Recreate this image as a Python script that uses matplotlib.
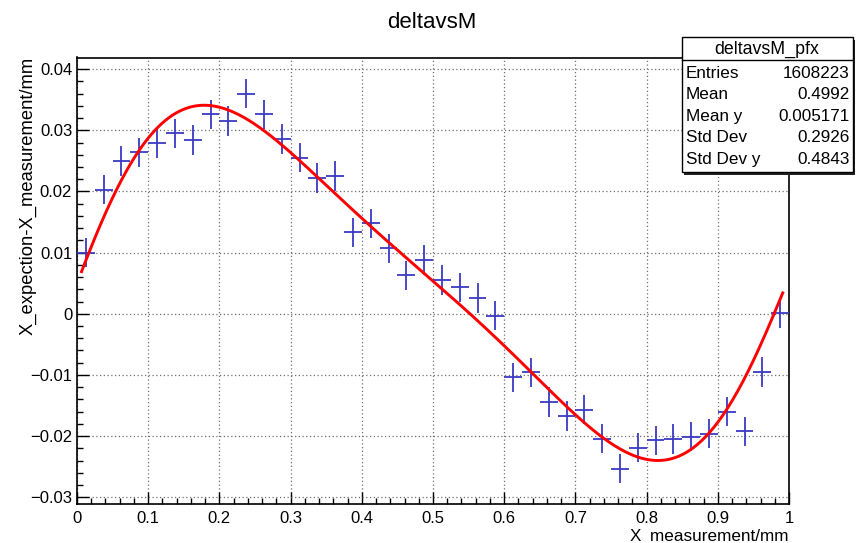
import numpy as np
import matplotlib
matplotlib.use("Agg")
import matplotlib.pyplot as plt
from matplotlib.patches import Rectangle
from matplotlib.lines import Line2D
from matplotlib.ticker import MultipleLocator, FuncFormatter

plt.rcParams['font.family'] = ['Liberation Sans', 'DejaVu Sans']

# ---- data ----
bin_centers = [0.0125, 0.0375, 0.0625, 0.0875, 0.1125, 0.1375, 0.1625, 0.1875,
               0.2125, 0.2375, 0.2625, 0.2875, 0.3125, 0.3375, 0.3625, 0.3875,
               0.4125, 0.4375, 0.4625, 0.4875, 0.5125, 0.5375, 0.5625, 0.5875,
               0.6125, 0.6375, 0.6625, 0.6875, 0.7125, 0.7375, 0.7625, 0.7875,
               0.8125, 0.8375, 0.8625, 0.8875, 0.9125, 0.9375, 0.9625, 0.9875]
profile_y = [0.0100, 0.0203, 0.0250, 0.0264, 0.0279, 0.0295, 0.0284, 0.0326,
             0.0315, 0.0360, 0.0326, 0.0286, 0.0255, 0.0222, 0.0225, 0.0133,
             0.0148, 0.0107, 0.0063, 0.0088, 0.0055, 0.0043, 0.0026, -0.0003,
             -0.0104, -0.0096, -0.0144, -0.0167, -0.0157, -0.0204, -0.0253, -0.0219,
             -0.0207, -0.0205, -0.0201, -0.0196, -0.0160, -0.0192, -0.0095, 0.0001]
profile_yerr = [0.0024] * 40
bin_half_width = 0.0125

# red fitted curve
fit_x = [0.0056, 0.0276, 0.051, 0.0698, 0.0838, 0.112, 0.1447, 0.1774, 0.1850, 0.1962,
         0.2243, 0.2617, 0.2945, 0.3179, 0.3413, 0.3647, 0.3834, 0.4115, 0.5004,
         0.648, 0.664, 0.7346, 0.7813, 0.8141, 0.8200, 0.8516, 0.884, 0.9125, 0.9406,
         0.9686, 0.992]
fit_y = [0.00666, 0.01265, 0.0200, 0.0241, 0.0257, 0.0298, 0.0325, 0.0340, 0.0342, 0.0342,
         0.0334, 0.0301, 0.0265, 0.0241, 0.0219, 0.0197, 0.01755, 0.0146, 0.0050,
         -0.0108, -0.0124, -0.0198, -0.0231, -0.0238, -0.0238, -0.0231, -0.0206, -0.0157,
         -0.0097, -0.0021, 0.0036]

title = "deltavsM"
xlabel = "X_measurement/mm"
ylabel = "X_expection-X_measurement/mm"
stats_title = "deltavsM_pfx"
stats_labels = ["Entries", "Mean", "Mean y", "Std Dev", "Std Dev y"]
stats_values = ["1608223", "0.4992", "0.005171", "0.2926", "0.4843"]

# ---- figure ----
W, H = 862, 543
fig = plt.figure(figsize=(W / 100, H / 100), dpi=100)
ax_l, ax_r, ax_t, ax_b = 77, 789, 57.5, 504
ax = fig.add_axes([ax_l / W, 1 - ax_b / H, (ax_r - ax_l) / W, (ax_b - ax_t) / H])

ax.set_xlim(0, 1)
ax.set_ylim(-0.0311, 0.0419)

ax.grid(True, which='major', color='#707070', linestyle=(0, (1, 2)), linewidth=0.9)
ax.set_axisbelow(True)

ax.errorbar(bin_centers, profile_y, xerr=bin_half_width, yerr=profile_yerr,
            fmt='none', ecolor='#3a3ac4', elinewidth=1.3, capsize=0, zorder=3)

w = np.ones(len(fit_x))
w[0] = w[-1] = 4.0
coef = np.polyfit(fit_x, fit_y, 7, w=w)
xs = np.linspace(fit_x[0], fit_x[-1], 400)
ax.plot(xs, np.polyval(coef, xs), color='#ff0000', lw=2.1, zorder=4,
        solid_capstyle='butt')

ax.xaxis.set_major_locator(MultipleLocator(0.1))
ax.xaxis.set_minor_locator(MultipleLocator(0.02))
ax.yaxis.set_major_locator(MultipleLocator(0.01))
ax.yaxis.set_minor_locator(MultipleLocator(0.002))
ax.tick_params(which='both', direction='in', top=False, right=False, colors='black')
ax.tick_params(which='major', length=8.6, width=1.0, labelsize=12)
ax.tick_params(which='minor', length=4.3, width=1.0)
ax.tick_params(axis='x', which='major', pad=5)
ax.tick_params(axis='y', which='major', pad=3.5)

ax.xaxis.set_major_formatter(FuncFormatter(
    lambda v, p: "0" if abs(v) < 1e-9 else ("1" if abs(v - 1) < 1e-9 else "%.1f" % v)))
ax.yaxis.set_major_formatter(FuncFormatter(
    lambda v, p: "0" if abs(v) < 1e-9 else ("%.2f" % v).replace('-', '\u2212')))

for sp in ax.spines.values():
    sp.set_linewidth(1.2)
    sp.set_color('black')

fig.text(432 / W, 1 - 22 / H, title, ha='center', va='center', fontsize=16)
fig.text(ax_r / W, 1 - 536 / H, xlabel, ha='right', va='center', fontsize=12.3)
fig.text(28 / W, 1 - 57 / H, ylabel, ha='center', va='top', rotation=90, fontsize=13.2)

# ---- stats box ----
bx0, bx1, by0, by1 = 681.5, 852.5, 37, 171.5
def fx(px):
    return px / W
def fy(py):
    return 1 - py / H
shadow = Rectangle((fx(bx0 + 3), fy(by1 + 3)), fx(bx1 - bx0), (by1 - by0) / H,
                   transform=fig.transFigure, facecolor='#222222', edgecolor='none', zorder=10)
fig.add_artist(shadow)
box = Rectangle((fx(bx0), fy(by1)), fx(bx1 - bx0), (by1 - by0) / H,
                transform=fig.transFigure, facecolor='white', edgecolor='black',
                linewidth=1.0, zorder=11)
fig.add_artist(box)
fig.add_artist(Line2D([fx(bx0), fx(bx1)], [fy(59.5), fy(59.5)], transform=fig.transFigure,
                      color='black', lw=1.0, zorder=12))
fig.text(fx((bx0 + bx1) / 2), fy(49), stats_title, ha='center', va='center', fontsize=12.8, zorder=13)
row_y = [73, 94.5, 116.5, 138, 159.5]
for yy, lab, val in zip(row_y, stats_labels, stats_values):
    fig.text(fx(686), fy(yy), lab, ha='left', va='center', fontsize=12.3, zorder=13)
    fig.text(fx(850), fy(yy), val, ha='right', va='center', fontsize=12.3, zorder=13)

fig.savefig("out.png", dpi=100)
